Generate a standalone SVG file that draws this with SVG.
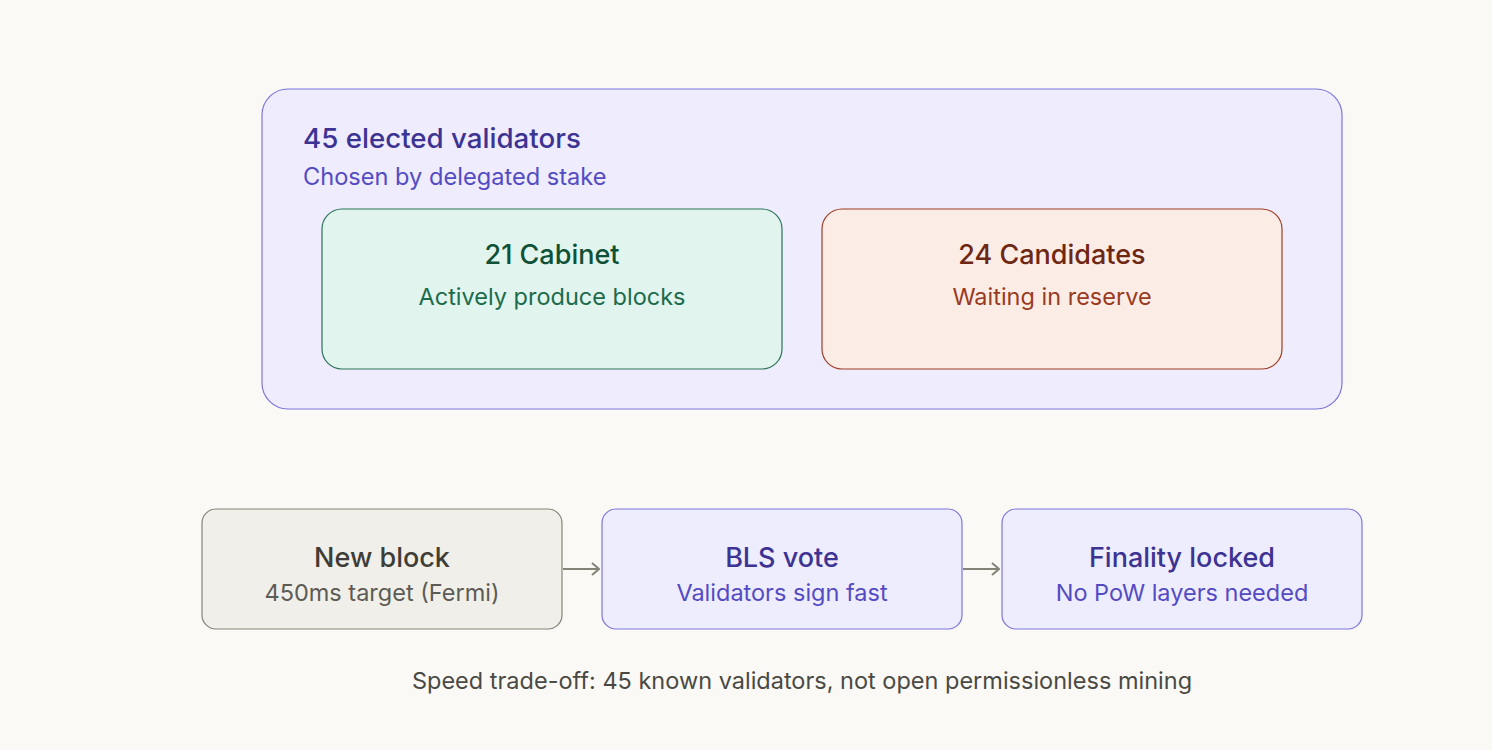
<svg xmlns="http://www.w3.org/2000/svg" width="1492" height="750" viewBox="0 0 1492 750">
<defs>
<marker id="ah" viewBox="0 0 14 14" refX="13" refY="7" markerWidth="14" markerHeight="14" orient="auto" markerUnits="userSpaceOnUse"><path d="M6,1 L13,7 L6,13" fill="none" stroke="#858378" stroke-width="2"/></marker>
</defs>
<style>
text{font-family:Inter,"Noto Sans",sans-serif}
.t{font-size:27px;font-weight:500;text-anchor:middle}
.s{font-size:23.5px;text-anchor:middle}
.p{fill:#eeedfd;stroke:#7d76db;stroke-width:1.2}
</style>
<rect width="1492" height="750" fill="#faf9f5"/>
<g id="validators">
<rect x="262" y="89" width="1080" height="320" rx="26" fill="#eeecfd" stroke="#7d76db" stroke-width="1.2"/>
<text x="303" y="148" font-size="27.7" font-weight="500" fill="#3c3393">45 elected validators</text>
<text x="303" y="185" font-size="23.6" fill="#544bc3">Chosen by delegated stake</text>
</g>
<g id="cabinet">
<rect x="322" y="209" width="460" height="160" rx="20" fill="#e1f5ee" stroke="#2b7357" stroke-width="1.2"/>
<text class="t" x="552" y="264" fill="#0f5137">21 Cabinet</text>
<text class="s" x="552" y="305" fill="#1c6b4b">Actively produce blocks</text>
</g>
<g id="candidates">
<rect x="822" y="209" width="460" height="160" rx="20" fill="#fbece6" stroke="#9e3d24" stroke-width="1.2"/>
<text class="t" x="1052" y="264" fill="#6e2712">24 Candidates</text>
<text class="s" x="1052" y="305" fill="#9a3a1e">Waiting in reserve</text>
</g>
<g id="newblock">
<rect x="202" y="509" width="360" height="120" rx="14" fill="#f1efe9" stroke="#858378" stroke-width="1.2"/>
<text class="t" x="382" y="567" fill="#3e3d38">New block</text>
<text class="s" x="382" y="601" fill="#5c5b55">450ms target (Fermi)</text>
</g>
<g id="bls">
<rect class="p" x="602" y="509" width="360" height="120" rx="14"/>
<text class="t" x="782" y="567" fill="#3c3393">BLS vote</text>
<text class="s" x="782" y="601" fill="#544bc3">Validators sign fast</text>
</g>
<g id="finality">
<rect class="p" x="1002" y="509" width="360" height="120" rx="14"/>
<text class="t" x="1182" y="567" fill="#3c3393">Finality locked</text>
<text class="s" x="1182" y="601" fill="#544bc3">No PoW layers needed</text>
</g>
<g id="connectors" stroke="#858378" stroke-width="2" fill="none">
<line x1="563" y1="569" x2="599" y2="569" marker-end="url(#ah)"/>
<line x1="963" y1="569" x2="999" y2="569" marker-end="url(#ah)"/>
</g>
<text x="802" y="689" font-size="23.5" text-anchor="middle" fill="#4a4944">Speed trade-off: 45 known validators, not open permissionless mining</text>
</svg>
